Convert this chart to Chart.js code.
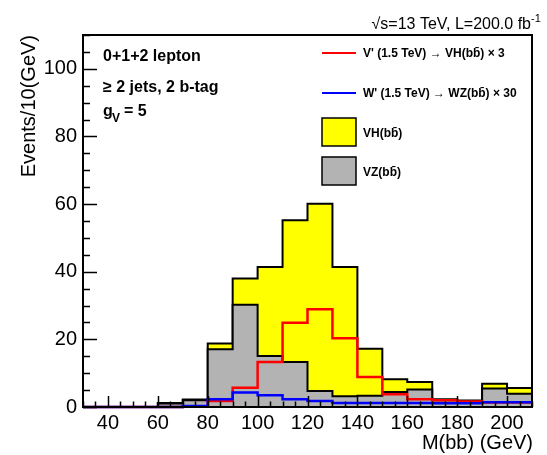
<!DOCTYPE html>
<html>
<head>
<meta charset="utf-8">
<script src="https://cdn.jsdelivr.net/npm/chart.js@4.4.1/dist/chart.umd.min.js"></script>
<style>
  html, body { margin: 0; padding: 0; background: #fff; }
</style>
</head>
<body>
<canvas id="mbb_chart" width="547" height="455"></canvas>
<script>
// bin edges of M(bb), 10 GeV bins
const binEdges = [30, 40, 50, 60, 70, 80, 90, 100, 110, 120, 130, 140, 150, 160, 170, 180, 190, 200, 210];

// events per bin
const vzBB   = [0, 0, 0, 1.0, 2.0, 17.1, 30.2, 15.1, 13.3, 4.7, 3.2, 3.3, 4.4, 5.2, 2.0, 1.6, 5.5, 3.9];
const vhBB   = [0, 0, 0, 0.2, 0.2, 1.7, 7.8, 26.3, 41.9, 55.4, 38.2, 13.9, 3.8, 2.2, 0.3, 0.3, 1.4, 1.7];
const vPrime = [0, 0, 0, 0, 0.2, 1.8, 5.7, 13.3, 24.9, 28.9, 20.3, 8.9, 3.8, 2.3, 2.0, 1.6, 1.3, 1.3];
const wPrime = [0, 0, 0, 0, 0.3, 2.3, 4.3, 3.5, 2.3, 1.8, 1.2, 1.2, 1.2, 1.2, 1.1, 1.1, 1.4, 1.4];

const xTicks = [40, 60, 80, 100, 120, 140, 160, 180, 200];
const yTicks = [0, 20, 40, 60, 80, 100];

const FONT = "'Liberation Sans', Arial, sans-serif";

// one point per lower bin edge, plus the upper edge of the last bin
function steps(values) {
  const pts = values.map((v, i) => ({ x: binEdges[i], y: v }));
  pts.push({ x: binEdges[binEdges.length - 1], y: values[values.length - 1] });
  return pts;
}

// VH is stacked on top of VZ
const vhStack = vhBB.map((v, i) => v + vzBB[i]);

const histFrame = {
  id: 'histFrame',
  afterDatasetsDraw(chart) {
    const { ctx, chartArea: a, scales: { x, y } } = chart;
    ctx.save();
    ctx.strokeStyle = '#000';
    ctx.lineWidth = 2;
    ctx.strokeRect(a.left, a.top, a.right - a.left, a.bottom - a.top);

    ctx.lineWidth = 1.5;
    ctx.beginPath();
    for (let v = 30; v <= 210; v += 5) {
      const px = Math.round(x.getPixelForValue(v)) + 0.5;
      const len = v % 20 === 0 ? 11 : 5.5;
      ctx.moveTo(px, a.bottom);
      ctx.lineTo(px, a.bottom - len);
    }
    for (let v = 0; v <= 110; v += 5) {
      const py = Math.round(y.getPixelForValue(v)) + 0.5;
      const len = v % 20 === 0 ? 14 : 7;
      ctx.moveTo(a.left, py);
      ctx.lineTo(a.left + len, py);
    }
    ctx.stroke();
    ctx.restore();
  },
  afterDraw(chart) {
    const { ctx } = chart;
    const ds = chart.data.datasets;
    ctx.save();
    ctx.fillStyle = '#000';

    // axis titles
    ctx.font = '20px ' + FONT;
    ctx.textAlign = 'right';
    ctx.textBaseline = 'alphabetic';
    ctx.fillText('M(bb) (GeV)', 533, 449);
    ctx.save();
    ctx.translate(35, 35);
    ctx.rotate(-Math.PI / 2);
    ctx.fillText('Events/10(GeV)', 0, 0);
    ctx.restore();

    // lumi label
    ctx.font = '16px ' + FONT;
    ctx.textAlign = 'right';
    ctx.fillText('\u221As=13 TeV, L=200.0 fb', 531, 29);
    ctx.font = '11px ' + FONT;
    ctx.textAlign = 'left';
    ctx.fillText('-1', 531, 22);

    // selection labels
    ctx.font = 'bold 16px ' + FONT;
    ctx.fillText('0+1+2 lepton', 103, 61);
    ctx.fillText('\u2265 2 jets, 2 b-tag', 103, 92);
    ctx.fillText('g', 103, 116);
    ctx.font = 'bold 12px ' + FONT;
    ctx.fillText('V', 112, 122);
    ctx.font = 'bold 16px ' + FONT;
    ctx.fillText('= 5', 124, 116);

    // legend
    ctx.font = 'bold 12px ' + FONT;
    const lx = 322, lw = 34, tx = 363;
    ctx.lineWidth = 2;
    [[ds[1], 53], [ds[0], 93]].forEach(([d, ly]) => {
      ctx.strokeStyle = d.borderColor;
      ctx.beginPath();
      ctx.moveTo(lx, ly);
      ctx.lineTo(lx + lw, ly);
      ctx.stroke();
      ctx.fillText(d.label, tx, ly + 4);
    });
    ctx.lineWidth = 1.5;
    ctx.strokeStyle = '#000';
    [[ds[3], 118], [ds[2], 157]].forEach(([d, by]) => {
      ctx.fillStyle = d.backgroundColor;
      ctx.fillRect(lx, by, lw, 28);
      ctx.strokeRect(lx, by, lw, 28);
      ctx.fillStyle = '#000';
      ctx.fillText(d.label, tx, by + 19);
    });
    ctx.restore();
  }
};

const config = {
  type: 'line',
  data: {
    datasets: [
      {
        label: "W' (1.5 TeV) \u2192 WZ(bb\u0304) \u00d7 30",
        data: steps(wPrime),
        borderColor: '#0000ff',
        borderWidth: 2.5,
        fill: false
      },
      {
        label: "V' (1.5 TeV) \u2192 VH(bb\u0304) \u00d7 3",
        data: steps(vPrime),
        borderColor: '#ff0000',
        borderWidth: 2.5,
        fill: false
      },
      {
        label: 'VZ(bb\u0304)',
        data: steps(vzBB),
        borderColor: '#000000',
        backgroundColor: '#b3b3b3',
        borderWidth: 2,
        fill: 'origin'
      },
      {
        label: 'VH(bb\u0304)',
        data: steps(vhStack),
        borderColor: '#000000',
        backgroundColor: '#ffff00',
        borderWidth: 2,
        fill: 'origin'
      }
    ]
  },
  options: {
    responsive: false,
    animation: false,
    devicePixelRatio: 1,
    layout: { padding: { left: 0, right: 15, top: 35, bottom: 0 } },
    elements: {
      line: { stepped: 'before', tension: 0 },
      point: { radius: 0, hoverRadius: 0 }
    },
    datasets: { line: { clip: { left: 0, right: 0, top: 0, bottom: 3 } } },
    plugins: {
      legend: { display: false },
      tooltip: { enabled: false }
    },
    scales: {
      x: {
        type: 'linear',
        min: 30,
        max: 210,
        grid: { display: false, drawTicks: false },
        border: { display: false },
        afterBuildTicks: s => { s.ticks = xTicks.map(v => ({ value: v })); },
        afterFit: s => { s.height = 48; },
        ticks: {
          autoSkip: false,
          maxRotation: 0,
          padding: 4,
          color: '#000',
          font: { family: FONT, size: 20 }
        }
      },
      y: {
        type: 'linear',
        min: 0,
        max: 110,
        grid: { display: false, drawTicks: false },
        border: { display: false },
        afterBuildTicks: s => { s.ticks = yTicks.map(v => ({ value: v })); },
        afterFit: s => { s.width = 83; },
        ticks: {
          padding: 6,
          color: '#000',
          font: { family: FONT, size: 20 }
        }
      }
    }
  },
  plugins: [histFrame]
};

const mbb_chart = new Chart(document.getElementById('mbb_chart'), config);
</script>
</body>
</html>
